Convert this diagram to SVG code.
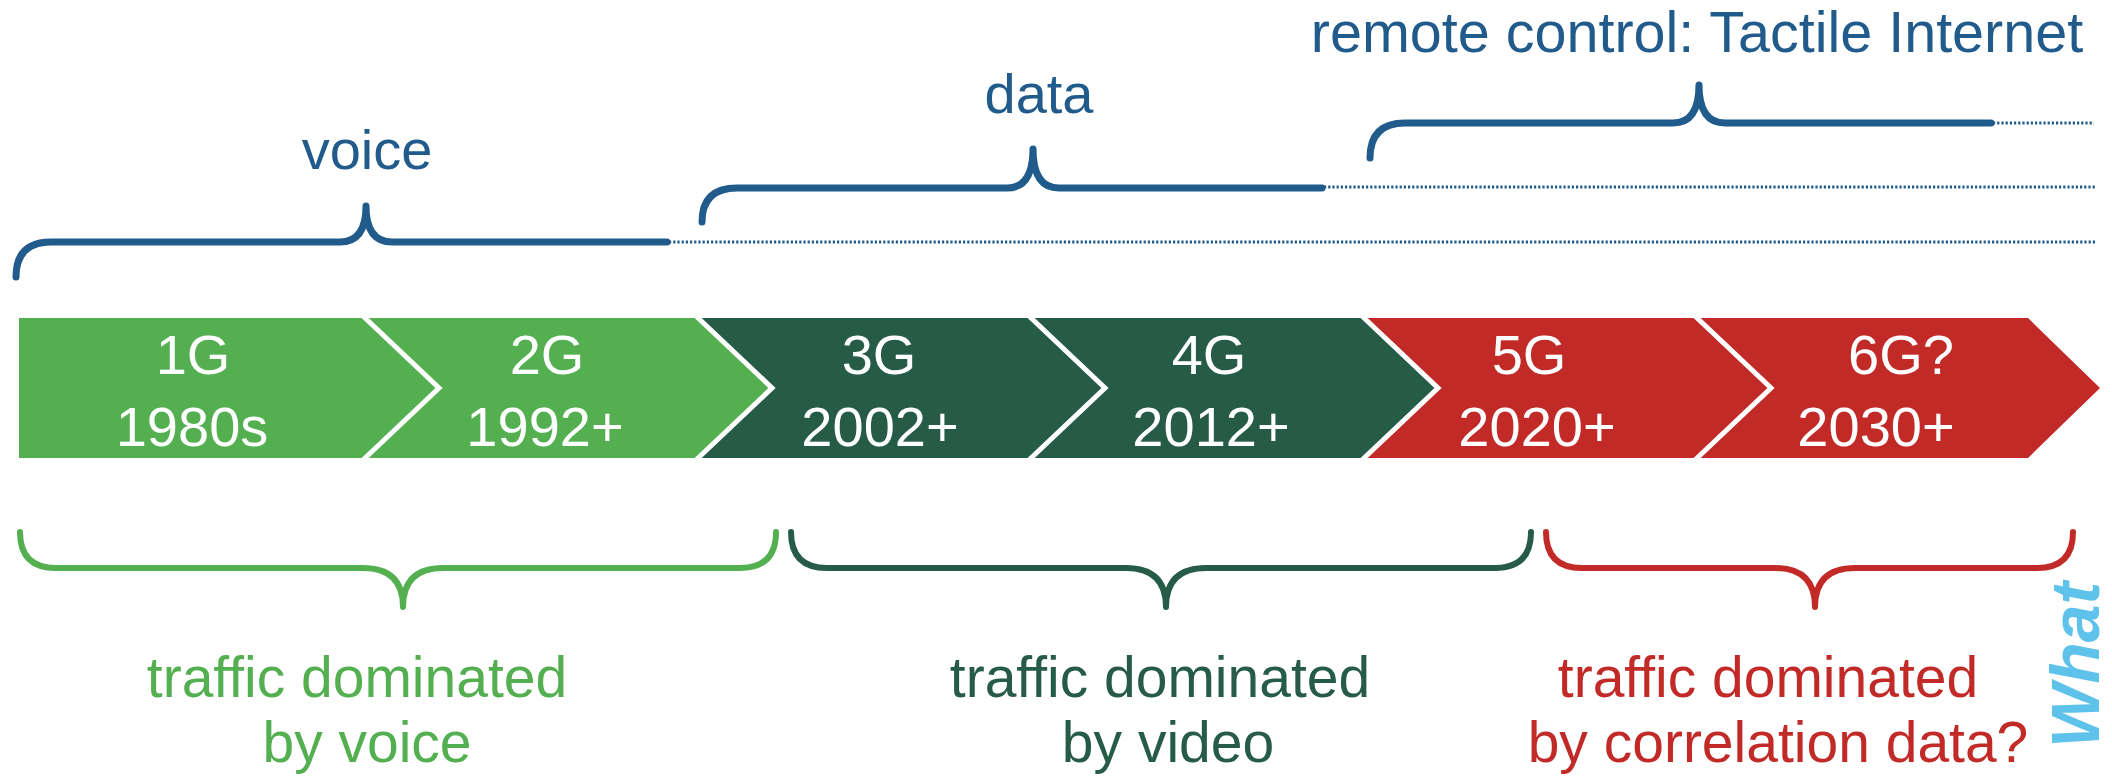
<svg xmlns="http://www.w3.org/2000/svg" width="2112" height="776" viewBox="0 0 2112 776">
  <style>
    text { font-family: "Liberation Sans", Arial, sans-serif; }
    .era { font-size: 56px; fill: #215b8b; text-anchor: middle; }
    .gen { font-size: 56px; fill: #ffffff; text-anchor: middle; }
    .traffic { font-size: 57px; text-anchor: middle; }
    .brace-top { fill: none; stroke: #215b8b; stroke-width: 7; stroke-linecap: round; stroke-linejoin: round; }
    .dots { fill: none; stroke: #215b8b; stroke-width: 3; stroke-dasharray: 2.2 2; }
    .brace-bot { fill: none; stroke-width: 6; stroke-linecap: round; stroke-linejoin: round; }
    .sep { fill: none; stroke: #ffffff; stroke-width: 5; }
    .lg { fill: #53af50; }
    .dg { fill: #255b47; }
    .rd { fill: #c22a27; }
  </style>

  <rect width="2112" height="776" fill="#ffffff"/>

  <!-- upper era labels -->
  <g id="era-voice">
    <text class="era" x="367" y="169">voice</text>
  </g>
  <g id="era-data">
    <text class="era" x="1039" y="113">data</text>
  </g>
  <g id="era-remote">
    <text class="era" x="1697" y="52" style="font-size:57.5px">remote control: Tactile Internet</text>
  </g>

  <!-- braces and their dotted extensions -->
  <g id="connectors">
    <path class="brace-top" d="M16 277 Q16 242 51 242 L340 242 Q366 242 366 206 Q366 242 392 242 L667 242"/>
    <path class="dots" d="M669 242 L2096 242"/>
    <path class="brace-top" d="M702 222 Q702 188 737 188 L1007 188 Q1033 188 1033 149 Q1033 188 1059 188 L1322 188"/>
    <path class="dots" d="M1324 187 L2096 187"/>
    <path class="brace-top" d="M1370 158 Q1370 123 1405 123 L1673 123 Q1699 123 1699 85 Q1699 123 1725 123 L1991 123"/>
    <path class="dots" d="M1993 123 L2094 123"/>

    <path class="brace-bot" stroke="#53af50" d="M20 532 Q20 568 56 568 L363 568 Q403 568 403 607 Q403 568 443 568 L740 568 Q776 568 776 532"/>
    <path class="brace-bot" stroke="#255b47" d="M791 532 Q791 568 827 568 L1126 568 Q1166 568 1166 607 Q1166 568 1206 568 L1495 568 Q1531 568 1531 532"/>
    <path class="brace-bot" stroke="#c22a27" d="M1546 532 Q1546 568 1582 568 L1775 568 Q1815 568 1815 607 Q1815 568 1855 568 L2037 568 Q2073 568 2073 532"/>
  </g>

  <!-- generation chevrons -->
  <g id="gen-1g">
    <polygon class="lg" points="19,318 363,318 439,388 363,458 19,458"/>
    <text class="gen" x="193" y="374">1G</text>
    <text class="gen" x="192" y="446">1980s</text>
  </g>
  <g id="gen-2g">
    <polygon class="lg" points="363,318 696,318 772,388 696,458 363,458 439,388"/>
    <text class="gen" x="547" y="374">2G</text>
    <text class="gen" x="545" y="446">1992+</text>
  </g>
  <g id="gen-3g">
    <polygon class="dg" points="696,318 1029,318 1105,388 1029,458 696,458 772,388"/>
    <text class="gen" x="879" y="374">3G</text>
    <text class="gen" x="880" y="446">2002+</text>
  </g>
  <g id="gen-4g">
    <polygon class="dg" points="1029,318 1362,318 1438,388 1362,458 1029,458 1105,388"/>
    <text class="gen" x="1209" y="374">4G</text>
    <text class="gen" x="1211" y="446">2012+</text>
  </g>
  <g id="gen-5g">
    <polygon class="rd" points="1362,318 1695,318 1771,388 1695,458 1362,458 1438,388"/>
    <text class="gen" x="1529" y="374">5G</text>
    <text class="gen" x="1537" y="446">2020+</text>
  </g>
  <g id="gen-6g">
    <polygon class="rd" points="1695,318 2028,318 2100,388 2028,458 1695,458 1771,388"/>
    <text class="gen" x="1901" y="374">6G?</text>
    <text class="gen" x="1876" y="446">2030+</text>
  </g>
  <g id="separators">
    <polyline class="sep" points="363,316 439,388 363,460"/>
    <polyline class="sep" points="696,316 772,388 696,460"/>
    <polyline class="sep" points="1029,316 1105,388 1029,460"/>
    <polyline class="sep" points="1362,316 1438,388 1362,460"/>
    <polyline class="sep" points="1695,316 1771,388 1695,460"/>
  </g>

  <!-- traffic labels -->
  <g id="traffic-voice" fill="#53af50">
    <text class="traffic" x="357" y="697">traffic dominated</text>
    <text class="traffic" x="367" y="762">by voice</text>
  </g>
  <g id="traffic-video" fill="#255b47">
    <text class="traffic" x="1160" y="697">traffic dominated</text>
    <text class="traffic" x="1168" y="762">by video</text>
  </g>
  <g id="traffic-correlation" fill="#c22a27">
    <text class="traffic" x="1768" y="697">traffic dominated</text>
    <text class="traffic" x="1778" y="762">by correlation data?</text>
  </g>

  <!-- vertical side caption along the right edge -->
  <g id="side-caption">
    <text x="0" y="0" transform="translate(2099 748) rotate(-90)" style="font-size:68px; font-weight:bold; font-style:italic; fill:#5ec2ea">What</text>
  </g>
</svg>
